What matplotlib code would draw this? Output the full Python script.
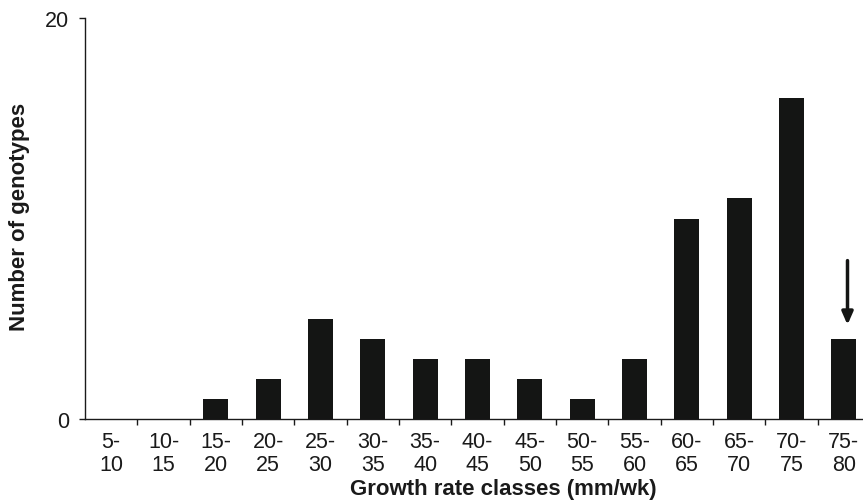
import numpy as np
import matplotlib
matplotlib.use('Agg')
import matplotlib.pyplot as plt

plt.rcParams['font.family'] = ['Liberation Sans', 'DejaVu Sans']

classes = ['5-\n10', '10-\n15', '15-\n20', '20-\n25', '25-\n30', '30-\n35', '35-\n40',
           '40-\n45', '45-\n50', '50-\n55', '55-\n60', '60-\n65', '65-\n70', '70-\n75', '75-\n80']
counts = [0, 0, 1, 2, 5, 4, 3, 3, 2, 1, 3, 10, 11, 16, 4]
y_ticks = [0, 20]
arrow_class = 14
arrow_from = 7.9
arrow_to = 4.7

bar_color = '#141514'
text_color = '#1a1a1a'

fig = plt.figure(figsize=(8.63, 5.02), dpi=100)
# axes extends a bit past the right edge, as in the original
ax = fig.add_axes([85 / 863, 82 / 502, 785 / 863, 401 / 502])

x = np.arange(len(counts))
ax.bar(x, counts, width=0.48, color=bar_color, zorder=3)

ax.set_xlim(-0.5, len(counts) - 0.5)
ax.set_ylim(0, 20)

for side in ['top', 'right']:
    ax.spines[side].set_visible(False)
for side in ['left', 'bottom']:
    ax.spines[side].set_linewidth(1.0)
    ax.spines[side].set_color(text_color)

ax.set_yticks(y_ticks)
ax.set_yticklabels([str(v) for v in y_ticks])
ax.tick_params(axis='y', length=4.5, width=1.0, pad=7, labelsize=15.5, colors=text_color)

# boundary ticks (unlabelled) + centred labels on minor ticks
ax.set_xticks(np.arange(0.5, len(counts) - 0.5, 1.0))
ax.set_xticklabels([])
ax.tick_params(axis='x', which='major', direction='out', length=4.5, width=1.0, color=text_color)
ax.set_xticks(x, minor=True)
ax.set_xticklabels(classes, minor=True, multialignment='center', linespacing=1.14)
ax.tick_params(axis='x', which='minor', length=0, pad=8.5, labelsize=15.5, colors=text_color)

ax.annotate('', xy=(arrow_class + 0.07, arrow_to), xytext=(arrow_class + 0.07, arrow_from),
            arrowprops=dict(arrowstyle='-|>,head_length=0.75,head_width=0.33',
                            color=bar_color, lw=2.5, shrinkA=0, shrinkB=0),
            annotation_clip=False)

fig.text(20 / 863, 1 - 217 / 502, 'Number of genotypes', rotation=90, ha='center', va='center',
         fontsize=16, fontweight='bold', color=text_color)
fig.text(503 / 863, 1 - 490 / 502, 'Growth rate classes (mm/wk)', ha='center', va='center',
         fontsize=16, fontweight='bold', color=text_color)

fig.savefig('out.png', dpi=100)
